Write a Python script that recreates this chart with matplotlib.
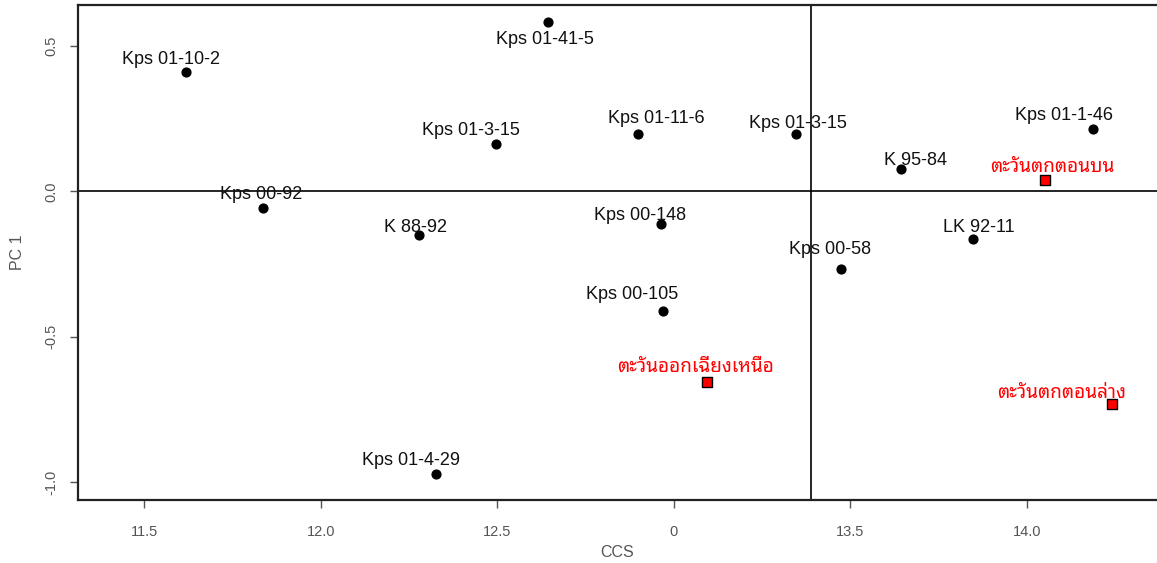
import matplotlib
matplotlib.use("Agg")
import matplotlib.pyplot as plt

# ---- data ----
names = ["Kps 01-10-2", "Kps 00-92", "K 88-92", "Kps 01-4-29", "Kps 01-3-15",
         "Kps 01-41-5", "Kps 01-11-6", "Kps 00-148", "Kps 00-105", "Kps 01-3-15",
         "Kps 00-58", "K 95-84", "LK 92-11", "Kps 01-1-46"]
ccs = [11.619, 11.837, 12.279, 12.327, 12.497, 12.644, 12.899, 12.965, 12.970,
       13.347, 13.474, 13.644, 13.846, 14.186]
pc1 = [0.412, -0.058, -0.151, -0.973, 0.162, 0.581, 0.196, -0.113, -0.412,
       0.196, -0.268, 0.076, -0.165, 0.213]

regions = ["ตะวันออกเฉียงเหนือ", "ตะวันตกตอนบน", "ตะวันตกตอนล่าง"]
reg_ccs = [13.095, 14.050, 14.242]
reg_pc1 = [-0.656, 0.038, -0.732]

xticks = [11.5, 12.0, 12.5, 13.0, 13.5, 14.0]
xticklabels = ["11.5", "12.0", "12.5", "0", "13.5", "14.0"]
yticks = [0.5, 0.0, -0.5, -1.0]
yticklabels = ["0.5", "0.0", "-0.5", "-1.0"]

mean_ccs = 13.389
mean_pc1 = 0.0

# label offsets in pixels (label placement)
name_off = [(-15, 12), (-2, 14), (-4, 8), (-25, 14), (-25, 14), (-3, -17),
            (18, 16), (-21, 9), (-31, 17), (2, 11), (-11, 20), (14, 9),
            (6, 12), (-29, 14)]
reg_off = [(-12, 15), (8, 13), (-51, 11)]

fig = plt.figure(figsize=(11.57, 5.63), dpi=100)
ax = fig.add_axes([78 / 1157, 63 / 563, (1157 - 78) / 1157, 495 / 563])

ax.set_xlim(11.313, 14.368)
ax.set_ylim(-1.062, 0.641)

ax.axvline(mean_ccs, color="black", lw=1.2)
ax.axhline(mean_pc1, color="black", lw=1.2)

ax.scatter(ccs, pc1, s=40, color="black", zorder=3)
ax.scatter(reg_ccs, reg_pc1, s=60, marker="s", facecolor="red",
           edgecolor="black", linewidth=1.0, zorder=3)

for n, x, y, off in zip(names, ccs, pc1, name_off):
    ax.annotate(n, (x, y), xytext=off, textcoords="offset pixels",
                ha="center", va="center", fontsize=13,
                family="Liberation Sans", color="#111111")

for n, x, y, off in zip(regions, reg_ccs, reg_pc1, reg_off):
    ax.annotate(n, (x, y), xytext=off, textcoords="offset pixels",
                ha="center", va="center", fontsize=13.7,
                family="Noto Sans Thai Looped", color="red")

ax.set_xticks(xticks)
ax.set_xticklabels(xticklabels)
ax.set_yticks(yticks)
ax.set_yticklabels(yticklabels, rotation=90, va="center")
ax.tick_params(colors="#555555", labelcolor="#555555", labelsize=10.5,
               length=6, width=1.0)
ax.tick_params(axis="x", pad=12)
ax.tick_params(axis="y", pad=8)
for lab in ax.get_xticklabels() + ax.get_yticklabels():
    lab.set_family("Liberation Sans")

ax.set_xlabel("CCS", fontsize=11.5, color="#555555", family="Liberation Sans",
              labelpad=4)
ax.set_ylabel("PC 1", fontsize=11.5, color="#555555", family="Liberation Sans",
              labelpad=14)

for s in ax.spines.values():
    s.set_linewidth(1.6)
    s.set_color("#222222")
ax.spines["right"].set_visible(False)

fig.savefig("out.png", dpi=100)
